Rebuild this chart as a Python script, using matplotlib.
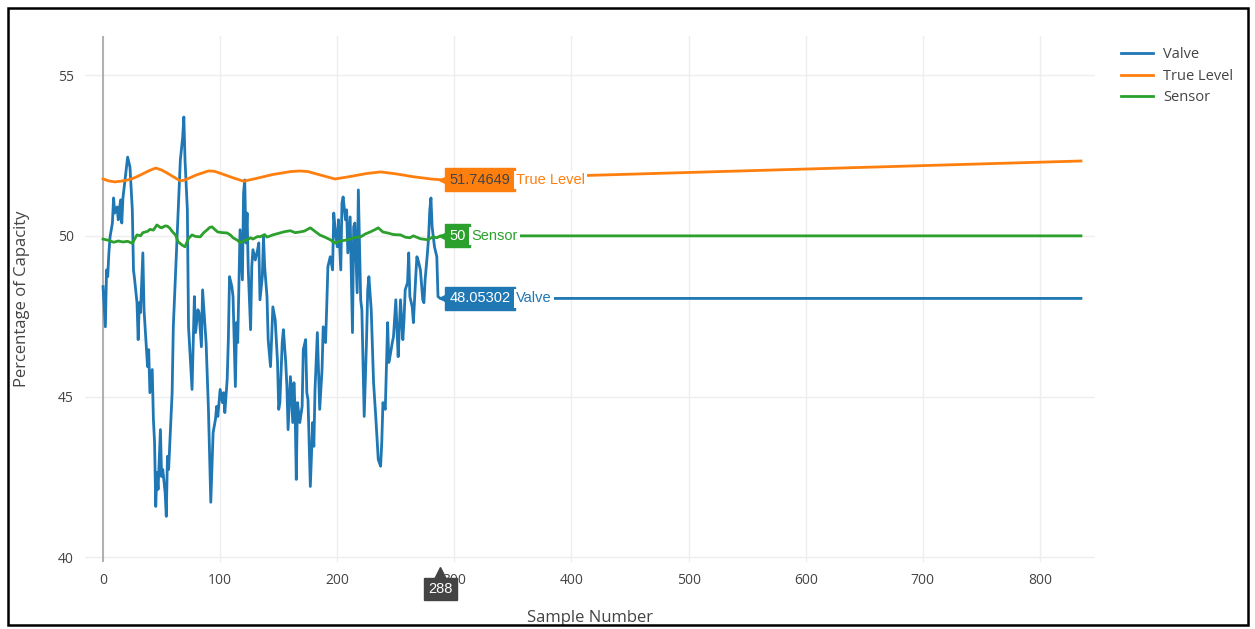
import matplotlib
matplotlib.use("Agg")
import matplotlib.pyplot as plt
from matplotlib.transforms import offset_copy
from matplotlib.patches import Rectangle

plt.rcParams['font.family'] = ['Open Sans', 'DejaVu Sans']

# valeurs
valve_x = [0, 2, 3, 4, 5, 6, 8, 9, 10, 12, 13, 15, 16, 17, 19, 20, 21, 23, 25, 26,
           27, 29, 30, 31, 32, 34, 35, 37, 38, 39, 40, 42, 43, 44, 45, 46, 47, 49, 50, 51,
           53, 54, 55, 56, 59, 60, 63, 66, 68, 69, 70,
           72, 73, 76, 78, 79, 81, 82, 84, 85, 88, 90, 92, 94, 96, 97, 98, 100, 102, 103, 104,
           106, 107, 108, 110, 111, 113, 114, 115, 117, 119, 120, 121, 122, 123, 124, 126, 127,
           128, 130, 132, 133, 134, 136, 137, 138, 140, 141, 143,
           145, 147, 149, 150, 151, 153, 154, 156, 157, 158, 160, 162, 163, 164, 165, 166, 168,
           170, 171, 173, 174, 175, 177, 179, 180, 181, 183, 184, 185, 187, 188, 190, 191, 192,
           194, 196, 197, 198, 200, 201, 203, 204, 205, 207, 208, 209, 211, 213, 214,
           215, 217, 218, 220, 221, 223, 225, 226, 227, 229, 231, 233, 235, 237, 238, 239, 241,
           243, 244, 245, 247, 248, 250, 251, 252, 254, 256, 257, 258, 260, 261, 262, 264, 265,
           267, 268, 269, 271, 273, 274, 275, 277, 278, 279, 280, 281, 283, 285, 286, 288, 835]
valve_y = [48.42, 47.17, 48.94, 48.73, 49.47, 49.97, 50.40, 51.18, 50.71, 50.90, 50.50, 51.12,
           50.40, 51.18, 51.83, 52.14, 52.45, 52.14, 50.81, 48.94,
           48.63, 47.92, 46.77, 47.92, 47.61, 49.47, 47.70, 46.55, 45.93, 46.46, 45.12, 45.84,
           44.29, 43.57, 41.58, 42.64, 42.11, 43.97, 42.51, 42.73,
           42.02, 41.27, 43.14, 42.73, 45.12, 47.17, 49.78, 52.36, 53.07, 53.70, 52.36,
           50.81, 47.17, 45.22, 48.11, 46.99, 47.70, 47.61, 46.55, 48.32, 46.68, 44.60, 41.71,
           43.88, 44.29, 44.69, 44.38, 45.22, 44.81, 45.12, 44.50,
           45.53, 46.77, 48.73, 48.42, 48.11, 45.31, 47.30, 46.68, 50.19, 48.63, 51.34, 51.74,
           49.78, 50.71, 48.94, 47.08, 49.04,
           49.57, 49.25, 49.57, 49.78, 48.01, 48.73, 49.97, 49.04, 48.11, 46.77, 45.93,
           47.79, 47.39, 46.06, 44.60, 44.81, 46.68, 47.08, 46.06, 45.31, 43.97, 45.62, 44.19,
           45.43, 44.60, 42.42, 44.81, 44.19,
           44.69, 46.46, 46.77, 45.12, 44.91, 42.20, 44.19, 43.45, 45.22, 46.99, 45.75, 44.60,
           45.84, 47.17, 46.68, 47.79, 49.04,
           49.35, 48.94, 50.71, 50.28, 49.66, 50.50, 48.94, 51.02, 51.21, 50.50, 50.81, 49.47,
           50.59, 46.99, 50.28,
           50.40, 48.23, 51.43, 48.01, 47.70, 44.38, 46.77, 48.32, 48.73, 47.70, 45.43, 44.29,
           43.04, 42.83, 43.57, 44.81, 44.60,
           47.30, 46.06, 46.24, 46.68, 46.86, 48.01, 47.08, 46.24, 48.01, 46.77, 47.39, 48.32,
           48.54, 49.47, 48.11, 47.79, 47.30,
           48.73, 49.35, 49.25, 48.94, 48.01, 47.92, 48.63, 49.47, 49.97, 50.81, 51.18, 50.28,
           49.66, 49.35, 48.11, 48.05302, 48.05302]

true_x = [0, 5, 10, 15, 20, 25, 30, 35, 40, 45, 50, 55, 60, 66, 70, 80, 90, 95, 100, 110,
          120, 130, 145, 160, 168, 175, 185, 198, 210, 225, 237, 250, 265, 280, 288, 835]
true_y = [51.77, 51.71, 51.68, 51.70, 51.73, 51.78, 51.86, 51.95, 52.04, 52.11, 52.05, 51.95,
          51.84, 51.71, 51.74, 51.90, 52.02, 52.01, 51.95, 51.82,
          51.70, 51.78, 51.91, 52.00, 52.02, 52.00, 51.90, 51.77, 51.84, 51.94, 51.99, 51.93,
          51.84, 51.77, 51.74649, 52.33]

sensor_x = [0, 5, 9, 13, 17, 21, 25, 29, 32, 34, 38, 40, 43, 46, 49, 50, 53, 55, 57, 59,
            62, 64, 68, 70, 73, 76, 79, 83, 86, 89, 91, 93, 96, 98, 102, 106, 109, 111, 115,
            117, 120, 123, 126, 128, 132, 134, 138, 140, 145, 151, 155, 160, 164, 168, 172,
            177, 181, 185, 190, 194, 198, 203, 209, 215, 220, 224, 228, 232, 235, 239, 243,
            248, 254, 258, 262, 265, 271, 277, 282, 285, 288, 835]
sensor_y = [49.90, 49.86, 49.80, 49.84, 49.81, 49.83, 49.77, 50.03, 50.00, 50.10, 50.14,
            50.20, 50.18, 50.34, 50.26, 50.25, 50.31, 50.30, 50.24, 50.14,
            50.02, 49.82, 49.70, 49.66, 49.92, 50.03, 49.98, 49.97, 50.10, 50.19, 50.26,
            50.28, 50.18, 50.12, 50.10, 50.09, 50.02, 49.94, 49.86,
            49.78, 49.84, 49.88, 49.94, 49.90, 49.98, 49.97, 50.04, 49.96, 50.03, 50.09,
            50.13, 50.16, 50.10, 50.12, 50.15,
            50.25, 50.14, 50.03, 49.95, 49.88, 49.78, 49.84, 49.88, 49.95, 49.97, 50.06,
            50.12, 50.19, 50.25, 50.12, 50.09,
            50.04, 50.03, 49.96, 49.94, 50.00, 49.91, 49.88, 49.97, 49.94, 50.00, 50.00]

hover_x = 288
hover_vals = {"True Level": "51.74649", "Sensor": "50", "Valve": "48.05302"}
hover_y = {"True Level": 51.74649, "Sensor": 50.0, "Valve": 48.05302}

c_valve = "#1f77b4"
c_true = "#ff7f0e"
c_sensor = "#2ca02c"
grey = "#444444"
hover_font = ['Liberation Sans', 'DejaVu Sans']

fig = plt.figure(figsize=(12.55, 6.29), dpi=100)
ax = fig.add_axes([85 / 1255, 1 - 562 / 629, 1010 / 1255, 526 / 629])

ax.plot(valve_x, valve_y, color=c_valve, lw=2, label="Valve", zorder=3)
ax.plot(true_x, true_y, color=c_true, lw=2, label="True Level", zorder=3)
ax.plot(sensor_x, sensor_y, color=c_sensor, lw=2, label="Sensor", zorder=3)

ax.set_xlim(-15.4, 847)
ax.set_ylim(39.85, 56.22)
ax.set_xticks(range(0, 801, 100))
ax.set_yticks([40, 45, 50, 55])
ax.grid(True, color="#eeeeee", lw=1)
ax.set_axisbelow(True)
ax.axvline(0, color="#aaaaaa", lw=1.3, zorder=1)
for s in ax.spines.values():
    s.set_visible(False)
ax.tick_params(length=0, labelsize=10, labelcolor=grey, pad=8)
ax.set_xlabel("Sample Number", fontsize=12, color=grey, labelpad=16)
ax.set_ylabel("Percentage of Capacity", fontsize=12, color=grey, labelpad=20)

# étiquettes de survol
for name, col, tcol in [("True Level", c_true, grey), ("Sensor", c_sensor, "white"),
                        ("Valve", c_valve, "white")]:
    yv = hover_y[name]
    tr = offset_copy(ax.transData, fig=fig, x=3.5, y=0, units="points")
    ax.plot([hover_x], [yv], marker="<", ms=9, color=col, transform=tr, zorder=5, clip_on=False)
    ann = ax.annotate(hover_vals[name], (hover_x, yv), xytext=(6.5, 0), textcoords="offset points",
                      ha="left", va="center", fontsize=10.5, color=tcol, zorder=6,
                      family=hover_font,
                      bbox=dict(boxstyle="square,pad=0.3", fc=col, ec=col))
    ax.annotate(name, (1, 0.5), xycoords=ann, xytext=(4, 0), textcoords="offset points",
                ha="left", va="center", fontsize=10.5, color=col, zorder=6,
                family=hover_font,
                bbox=dict(boxstyle="square,pad=0.15", fc="white", ec="none"))

trx = offset_copy(ax.get_xaxis_transform(), fig=fig, x=0, y=-8, units="points")
ax.plot([hover_x], [0], marker="^", ms=8, color=grey, transform=trx, zorder=5, clip_on=False)
ax.annotate(str(hover_x), (hover_x, 0), xycoords=("data", "axes fraction"), xytext=(0, -19.5),
            textcoords="offset points", ha="center", va="center", fontsize=10.5, color="white",
            family=hover_font, zorder=6, annotation_clip=False,
            bbox=dict(boxstyle="square,pad=0.3", fc=grey, ec=grey))

leg = fig.legend(loc="upper left", bbox_to_anchor=(1108 / 1255, 1 - 34 / 629), frameon=False,
                 fontsize=10.5, handlelength=2.2, labelspacing=0.45, handletextpad=0.7)
for t in leg.get_texts():
    t.set_color(grey)

fig.patches.append(Rectangle((8 / 1255, 4 / 629), 1240 / 1255, 617 / 629, transform=fig.transFigure,
                             fill=False, ec="black", lw=1.8))

fig.savefig("out.png", dpi=100)
